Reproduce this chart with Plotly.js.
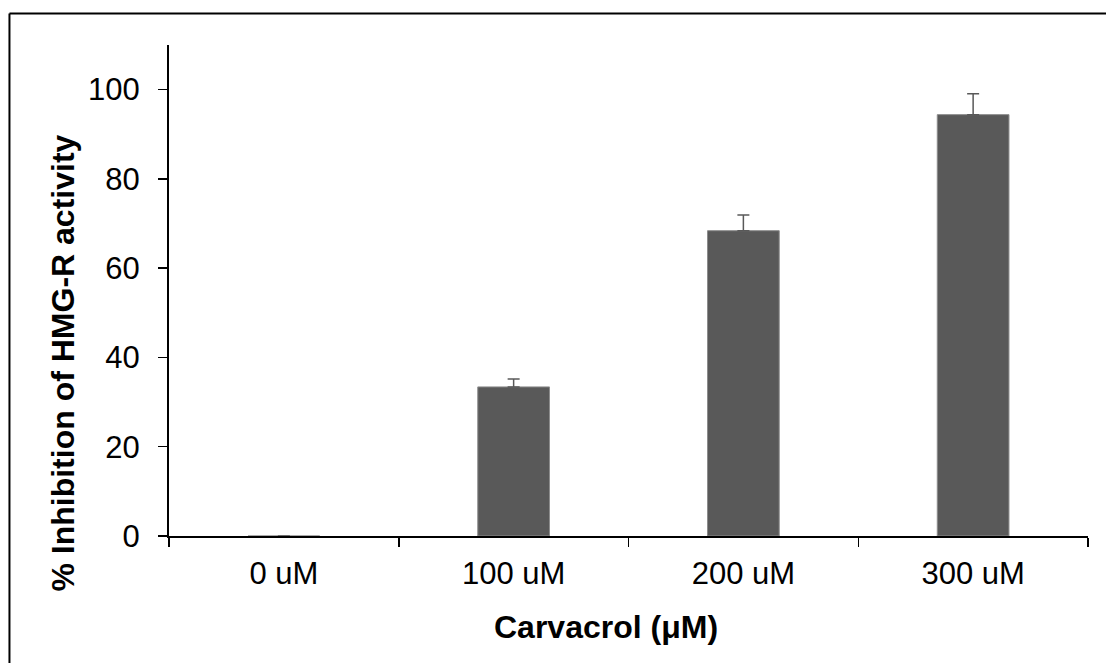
<!DOCTYPE html>
<html>
<head>
<meta charset="utf-8">
<script src="https://cdn.plot.ly/plotly-3.0.1.min.js"></script>
<style>
html,body{margin:0;padding:0;background:#fff;}
#chart{width:1106px;height:663px;}
</style>
</head>
<body>
<div id="chart"></div>
<script>
const categories = ["0 uM", "100 uM", "200 uM", "300 uM"];
const inhibition = [0, 33.4, 68.4, 94.4];
const errorUp = [0, 1.8, 3.5, 4.7];
const errorDown = [0, 0, 0, 0];
const yTicks = [0, 20, 40, 60, 80, 100];
const xTitle = 'Carvacrol (μM)';
const yTitle = '% Inhibition of HMG-R activity';

const FONT = '"Liberation Sans", Arial, sans-serif';

const trace = {
  type: 'bar',
  x: categories,
  y: inhibition,
  marker: {color: '#595959', line: {color: '#8c8c8c', width: 1}},
  error_y: {type: 'data', symmetric: false, array: errorUp, arrayminus: errorDown,
            color: '#595959', thickness: 1.5, width: 6},
  hoverinfo: 'x+y'
};

const layout = {
  width: 1106, height: 663,
  margin: {l: 169, r: 18, t: 45, b: 127},
  paper_bgcolor: '#ffffff', plot_bgcolor: '#ffffff',
  bargap: 0.688,
  showlegend: false,
  font: {family: FONT, color: '#000'},
  xaxis: {
    type: 'category',
    showline: true, linecolor: '#000', linewidth: 1.5,
    ticks: 'outside', tickson: 'boundaries', ticklen: 9, tickwidth: 1.5, tickcolor: '#000',
    tickfont: {size: 31, family: FONT, color: '#000'},
    ticklabelstandoff: 9,
    showgrid: false, zeroline: false
  },
  yaxis: {
    range: [0, 110],
    tickvals: yTicks,
    showline: true, linecolor: '#000', linewidth: 2,
    ticks: 'outside', ticklen: 9, tickwidth: 1.5, tickcolor: '#000',
    tickfont: {size: 31, family: FONT, color: '#000'},
    ticklabelstandoff: 12,
    showgrid: false, zeroline: false
  },
  annotations: [
    {text: xTitle, xref: 'paper', yref: 'paper', x: 0.476, y: -0.1853,
     xanchor: 'center', yanchor: 'middle', showarrow: false,
     font: {size: 32, family: FONT, color: '#000', weight: 'bold'}},
    {text: yTitle, xref: 'paper', yref: 'paper', x: -0.1164, y: 0.3513, textangle: -90,
     xanchor: 'center', yanchor: 'middle', showarrow: false,
     font: {size: 32, family: FONT, color: '#000', weight: 'bold'}}
  ],
  shapes: [
    {type: 'line', xref: 'paper', yref: 'paper', x0: -0.1736, x1: 1.05, y0: 1.0642, y1: 1.0642,
     line: {color: '#000', width: 2}},
    {type: 'line', xref: 'paper', yref: 'paper', x0: -0.1736, x1: -0.1736, y0: 1.0642, y1: -0.3,
     line: {color: '#000', width: 2}}
  ]
};

Plotly.newPlot('chart', [trace], layout, {displayModeBar: false, staticPlot: true});
</script>
</body>
</html>
